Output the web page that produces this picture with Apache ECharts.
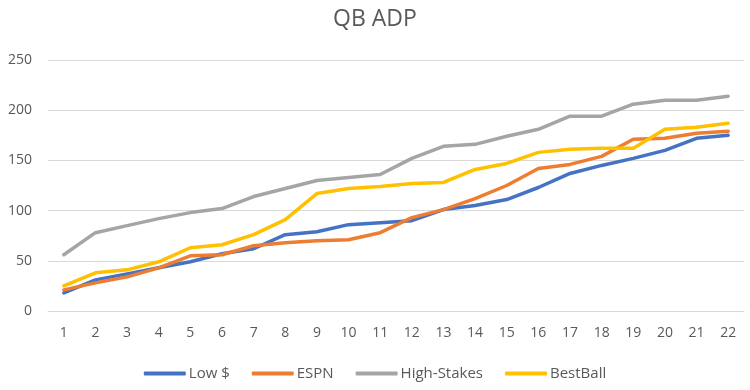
<!DOCTYPE html>
<html><head><meta charset="utf-8">
<script src="https://cdn.jsdelivr.net/npm/echarts@6/dist/echarts.min.js"></script>
<style>html,body{margin:0;padding:0;background:#fff}#c{width:750px;height:390px}</style>
</head><body><div id="c"></div>
<script>
const categories = ['1','2','3','4','5','6','7','8','9','10','11','12','13','14','15','16','17','18','19','20','21','22'];
const lowDollar = [18,31,37,43,49,57,62,76,79,86,88,90,101,105,111,123,137,145,152,160,172,175];
const espn = [21,28,34,43,55,56,65,68,70,71,78,93,101,112,125,142,146,154,171,172,177,179];
const highStakes = [56,78,85,92,98,102,114,122,130,133,136,152,164,166,174,181,194,194,206,210,210,214];
const bestBall = [25,38,41,49,63,66,76,91,117,122,124,127,128,141,147,158,161,162,162,181,183,187];
const yTicks = {min:0, max:250, interval:50};

const font = "'Open Sans', 'Liberation Sans', sans-serif";
const chart = echarts.init(document.getElementById('c'), null, {renderer:'canvas'});
function s(name, data, color){
  return {name, type:'line', data, symbol:'none', smooth:false,
    lineStyle:{width:3.5, color, cap:'round', join:'round'}, itemStyle:{color}};
}
chart.setOption({
  animation:false,
  title:{text:'QB ADP', left:'center', top:3, textStyle:{fontFamily:font, fontSize:23, fontWeight:'normal', color:'#595959'}},
  grid:{left:48, right:6, top:60, bottom:79, containLabel:false},
  legend:{bottom:4, left:'center', itemWidth:42, itemHeight:4, itemGap:22, icon:'roundRect',
    textStyle:{fontFamily:font, fontSize:15, color:'#595959', padding:[0,0,0,-2]}},
  xAxis:{type:'category', data:categories, boundaryGap:true,
    axisLine:{show:true, lineStyle:{color:'#d9d9d9'}}, axisTick:{show:false},
    axisLabel:{fontFamily:font, fontSize:14, color:'#595959', margin:15}},
  yAxis:{type:'value', min:yTicks.min, max:yTicks.max, interval:yTicks.interval,
    axisLine:{show:false}, axisTick:{show:false},
    splitLine:{lineStyle:{color:'#d9d9d9', width:1}},
    axisLabel:{fontFamily:font, fontSize:14, color:'#595959', margin:16}},
  series:[
    s('Low $', lowDollar, '#4472C4'),
    s('ESPN', espn, '#ED7D31'),
    s('High-Stakes', highStakes, '#A5A5A5'),
    s('BestBall', bestBall, '#FFC000')
  ]
});
</script></body></html>
